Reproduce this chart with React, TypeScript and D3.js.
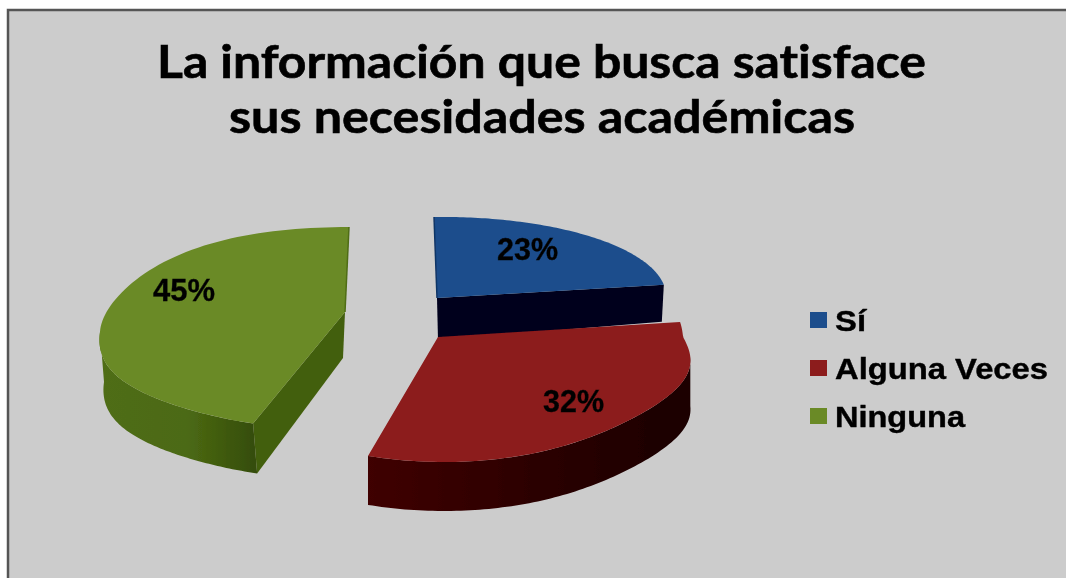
import React from "react";
import * as d3 from "d3";

const chartTitle = ["La información que busca satisface", "sus necesidades académicas"];
const categories = ["Sí", "Alguna Veces", "Ninguna"];
const values = [23, 32, 45];
const colors = ["#1b4d8c", "#8c1a1a", "#6a8a25"];

type G = { cx: number; cy: number; rx: number; far: number; near: number; leanFar: number; leanNear: number; depth: number; wallDx: number; tilt: number; bulge: number; swell: number; lx: number; ly: number; lw: number };
const geometry: G[] = [
  { cx: 437, cy: 298, rx: 229, far: 81, near: 81, leanFar: -3, leanNear: 0, depth: 37, wallDx: -2, tilt: 3, bulge: 0, swell: 0, lx: 497, ly: 260, lw: 61 },
  { cx: 438, cy: 337, rx: 245, far: 120, near: 125, leanFar: -8, leanNear: -6, depth: 49, wallDx: 0, tilt: 0, bulge: 0, swell: 66, lx: 543, ly: 412, lw: 61 },
  { cx: 345, cy: 312, rx: 245, far: 85, near: 117, leanFar: 4, leanNear: 17, depth: 50, wallDx: 4, tilt: 0, bulge: 20, swell: 0, lx: 153, ly: 301, lw: 62 },
];
const legendY = [312, 360, 408];
const legendW = [31, 213, 130];
const font = "'Liberation Sans', Arial, sans-serif";

const arcs = d3.pie<number>().sort(null)(values);
const line = d3.line<[number, number]>().curve(d3.curveLinear);

function pt(g: G, a: number, wall = false): [number, number] {
  const c = Math.cos(a), s = Math.sin(a);
  const x = g.cx + g.rx * s + (c >= 0 ? g.leanFar : g.leanNear) * c + (c < 0 && s > 0 ? g.swell * Math.pow(s, 8) * -c : 0);
  const y = g.cy - (c >= 0 ? g.far : g.near) * c - g.tilt * s + (s < 0 ? g.bulge * Math.pow(s, 4) : 0);
  return wall ? [x + g.wallDx, y + g.depth] : [x, y];
}
function arcPts(g: G, a0: number, a1: number, wall = false) {
  const n = 90;
  return d3.range(n + 1).map((i) => pt(g, a0 + ((a1 - a0) * i) / n, wall));
}

export default function App() {
  const top = arcs.map((a, i) => {
    const g = geometry[i];
    return line([[g.cx, g.cy], ...arcPts(g, a.startAngle, a.endAngle)])! + "Z";
  });
  const blueG = geometry[0], redG = geometry[1], greenG = geometry[2];
  const blueEnd = pt(blueG, arcs[0].endAngle);
  const blueStart = pt(blueG, arcs[0].startAngle);
  const redA0 = Math.PI / 2 + 0.16, redA1 = arcs[1].endAngle;
  const redWall = line([...arcPts(redG, redA0, redA1), ...arcPts(redG, redA0, redA1, true).reverse()])! + "Z";
  const greenA0 = arcs[2].startAngle, greenA1 = Math.PI * 1.5;
  const greenWall = line([...arcPts(greenG, greenA0, greenA1), ...arcPts(greenG, greenA0, greenA1, true).reverse()])! + "Z";
  const greenCorner = pt(greenG, arcs[2].startAngle);
  const greenRadial = line([
    [greenG.cx, greenG.cy], greenCorner,
    [greenCorner[0] + greenG.wallDx, greenCorner[1] + greenG.depth],
    [greenG.cx - 2, greenG.cy + 46],
  ])! + "Z";
  const greenFar = pt(greenG, arcs[2].endAngle - 1e-6);
  return (
    <svg width={1066} height={578} style={{ position: "fixed", left: 0, top: 0, display: "block" }}>
      <defs>
        <filter id="soft" x="-5%" y="-5%" width="110%" height="110%"><feGaussianBlur stdDeviation="0.75" /></filter>
        <linearGradient id="redW" x1="0" x2="1" y1="0" y2="0">
          <stop offset="0" stopColor="#3f0000" />
          <stop offset="0.45" stopColor="#2e0000" />
          <stop offset="1" stopColor="#1a0000" />
        </linearGradient>
        <linearGradient id="greenW" x1="0" x2="1" y1="0" y2="0">
          <stop offset="0" stopColor="#4f6d16" />
          <stop offset="0.55" stopColor="#4c6a14" />
          <stop offset="1" stopColor="#344c07" />
        </linearGradient>
      </defs>
      <rect width={1066} height={578} fill="#ffffff" />
      <g filter="url(#soft)">
        <rect x={8} y={10} width={1070} height={580} fill="#cccccc" stroke="#555555" strokeWidth={2.5} />
        <g textAnchor="start" fontFamily="Lato, 'Open Sans', sans-serif" fontWeight={700} fontSize={45} fill="#000" stroke="#000" strokeWidth={0.6} style={{ fontVariantLigatures: "none" }}>
          <text x={157} y={78} textLength={769} lengthAdjust="spacingAndGlyphs">{chartTitle[0]}</text>
          <text x={229} y={133} textLength={626} lengthAdjust="spacingAndGlyphs">{chartTitle[1]}</text>
        </g>
        {/* blue */}
        <path d={line([[blueG.cx, blueG.cy], blueEnd, [blueEnd[0] + blueG.wallDx, blueEnd[1] + blueG.depth], [blueG.cx + 1, blueG.cy + blueG.depth + 5]])! + "Z"} fill="#00001c" />
        <path d={top[0]} fill={colors[0]} />
        <path d={line([blueStart, [blueG.cx, blueG.cy]])!} stroke="#103566" strokeWidth={1.5} fill="none" />
        {/* green */}
        <path d={greenRadial} fill="#435f0d" />
        <path d={greenWall} fill="url(#greenW)" />
        <path d={top[2]} fill={colors[2]} />
        <path d={line([greenFar, [greenG.cx, greenG.cy]])!} stroke="#4f6d16" strokeWidth={1.5} fill="none" />
        {/* red */}
        <path d={redWall} fill="url(#redW)" />
        <path d={top[1]} fill={colors[1]} />
        {geometry.map((g, i) => (
          <text key={i} x={g.lx} y={g.ly} textLength={g.lw} lengthAdjust="spacingAndGlyphs" fontFamily={font} fontWeight={700} fontSize={32} fill="#050505" stroke="#050505" strokeWidth={0.35}>{values[i]}%</text>
        ))}
        {categories.map((c, i) => (
          <g key={c}>
            <rect x={810} y={legendY[i]} width={17} height={16} fill={colors[i]} />
            <text x={835} y={legendY[i] + 19} textLength={legendW[i]} lengthAdjust="spacingAndGlyphs" fontFamily={font} fontWeight={700} fontSize={29} fill="#000" stroke="#000" strokeWidth={0.4}>{c}</text>
          </g>
        ))}
      </g>
    </svg>
  );
}
